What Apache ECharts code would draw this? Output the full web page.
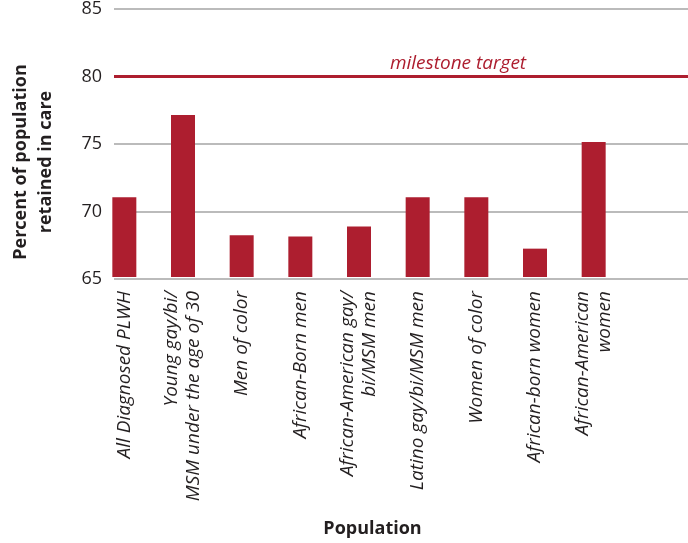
<!DOCTYPE html>
<html>
<head>
<meta charset="utf-8">
<script src="https://cdn.jsdelivr.net/npm/echarts@6/dist/echarts.min.js"></script>
<style>html,body{margin:0;padding:0;background:#fff}#c{width:688px;height:543px}</style>
</head>
<body>
<div id="c"></div>
<script>
var categories = [
  'All Diagnosed PLWH',
  'Young gay/bi/\nMSM under the age of 30',
  'Men of color',
  'African-Born men',
  'African-American gay/\nbi/MSM men',
  'Latino gay/bi/MSM men',
  'Women of color',
  'African-born women',
  'African-American\nwomen'
];
var retained = [70.9, 77.0, 68.1, 68.0, 68.75, 70.9, 70.9, 67.1, 75.0];
var milestoneTarget = 80;
var yTicks = { min: 65, max: 85, interval: 5 };

var red = '#AD1E2F';
var ink = '#231F20';
var font = '"Open Sans", "Noto Sans", sans-serif';

var chart = echarts.init(document.getElementById('c'), null, { renderer: 'canvas' });
chart.setOption({
  animation: false,
  backgroundColor: '#fff',
  grid: [
    { left: 110, right: 0, top: 7, bottom: 264 },
    { left: 95, width: 528, top: 7, bottom: 264 }
  ],
  xAxis: [
    { gridIndex: 0, type: 'category', data: categories, show: false },
    {
      gridIndex: 1, type: 'category', data: categories,
      axisLine: { show: false }, axisTick: { show: false },
      axisLabel: {
        interval: 0, rotate: 90, margin: 14,
        fontFamily: font, fontStyle: 'italic', fontSize: 19, lineHeight: 22, color: ink
      },
      name: 'Population', nameLocation: 'middle', nameGap: 243,
      nameTextStyle: { fontFamily: font, fontWeight: 'bold', fontSize: 18, color: ink, padding: [0, 0, 0, 27] }
    }
  ],
  yAxis: [
    {
      gridIndex: 0, type: 'value', min: yTicks.min, max: yTicks.max, interval: yTicks.interval,
      axisLine: { show: false }, axisTick: { show: false },
      axisLabel: { fontFamily: font, fontSize: 18, color: ink, margin: 12 },
      splitLine: { show: true, lineStyle: { color: '#BBBBBB', width: 2 } },
      name: 'Percent of population\nretained in care', nameLocation: 'middle', nameGap: 56,
      nameTextStyle: { fontFamily: font, fontWeight: 'bold', fontSize: 18, lineHeight: 25, color: ink, padding: [0, 36, 0, 0] }
    },
    { gridIndex: 1, type: 'value', min: yTicks.min, max: yTicks.max, interval: yTicks.interval, show: false, splitLine: { show: false } }
  ],
  series: [
    {
      type: 'line', xAxisIndex: 0, yAxisIndex: 0, data: [], silent: true,
      markLine: {
        silent: true, symbol: ['none', 'none'],
        lineStyle: { color: red, width: 3, type: 'solid' },
        label: {
          show: true, position: 'insideMiddleTop', formatter: 'milestone target',
          fontFamily: font, fontStyle: 'italic', fontSize: 19, color: red, distance: 3,
          padding: [0, 0, 0, 114]
        },
        data: [{ yAxis: milestoneTarget }]
      }
    },
    {
      type: 'bar', xAxisIndex: 1, yAxisIndex: 1, data: retained,
      barWidth: 24, itemStyle: { color: red }
    }
  ]
});
</script>
</body>
</html>
